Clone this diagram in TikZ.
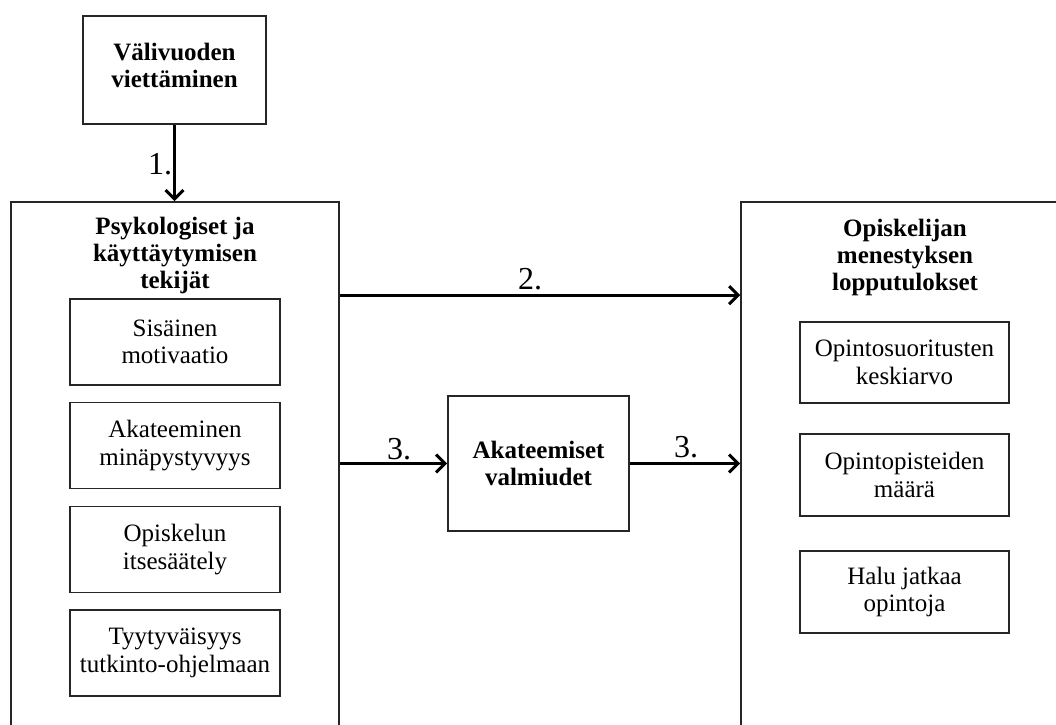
\documentclass[tikz,border=0pt]{standalone}
\usepackage{fontspec}
\setmainfont{Liberation Serif}
\usetikzlibrary{arrows.meta}
\begin{document}
\begin{tikzpicture}[x=1pt,y=-1pt,
  box/.style={draw=black!85, line width=1.6pt, align=center, inner sep=0pt,
    font=\fontsize{25}{27.5}\selectfont},
  bigbox/.style={draw=black!85, line width=1.6pt, inner sep=0pt},
  title/.style={align=center, font=\fontsize{25}{27}\selectfont\bfseries},
  arr/.style={line width=3pt, -{Straight Barb[length=9pt,width=18pt]}},
  num/.style={font=\fontsize{32}{32}\selectfont, inner sep=0pt}]
\useasboundingbox (0,0) rectangle (1056,724);
% top box
\node[box, minimum width=183pt, minimum height=108pt] (top) at (174.5,70) {};
\node[title] (toptext) at (174.5,65) {Välivuoden\\viettäminen};
% big boxes
\node[bigbox, minimum width=328pt, minimum height=560pt] (lbig) at (175,482) {};
\node[bigbox, minimum width=330pt, minimum height=560pt] (rbig) at (906,482) {};
\node[title] (ltitle) at (175,255) {Psykologiset ja\\käyttäytymisen\\tekijät};
\node[title] (rtitle) at (905,257) {Opiskelijan\\menestyksen\\lopputulokset};
% left inner boxes
\node[box, minimum width=210pt, minimum height=86pt] (l1) at (175,342) {Sisäinen\\motivaatio};
\node[box, minimum width=210pt, minimum height=86pt] (l2) at (175,445.5) {Akateeminen\\minäpystyvyys};
\node[box, minimum width=210pt, minimum height=86pt] (l3) at (175,549.5) {Opiskelun\\itsesäätely};
\node[box, minimum width=210pt, minimum height=86pt] (l4) at (175,653) {Tyytyväisyys\\tutkinto-ohjelmaan};
% right inner boxes
\node[box, minimum width=209pt, minimum height=81pt] (r1) at (904.5,362.5) {Opintosuoritusten\\keskiarvo};
\node[box, minimum width=209pt, minimum height=82pt] (r2) at (904.5,475) {Opintopisteiden\\määrä};
\node[box, minimum width=209pt, minimum height=82pt] (r3) at (904.5,592) {Halu jatkaa\\opintoja};
% middle box
\node[box, minimum width=181pt, minimum height=135pt] (ak) at (538.5,463.5) {};
\node[title] (aktext) at (538.5,463.5) {Akateemiset\\valmiudet};
% arrows
\draw[arr] (top.south) -- (lbig.north -| top.south);
\draw[arr] ([yshift=-94pt]lbig.north east) -- ([yshift=-94pt]rbig.north west);
\draw[arr] (lbig.east |- ak.west) -- (ak.west);
\draw[arr] (ak.east) -- (rbig.west |- ak.east);
% labels
\node[num] (n1) at (160,164) {1.};
\node[num] (n2) at (530,279) {2.};
\node[num] (n3a) at (399,449) {3.};
\node[num] (n3b) at (686,447) {3.};
\end{tikzpicture}
\end{document}
